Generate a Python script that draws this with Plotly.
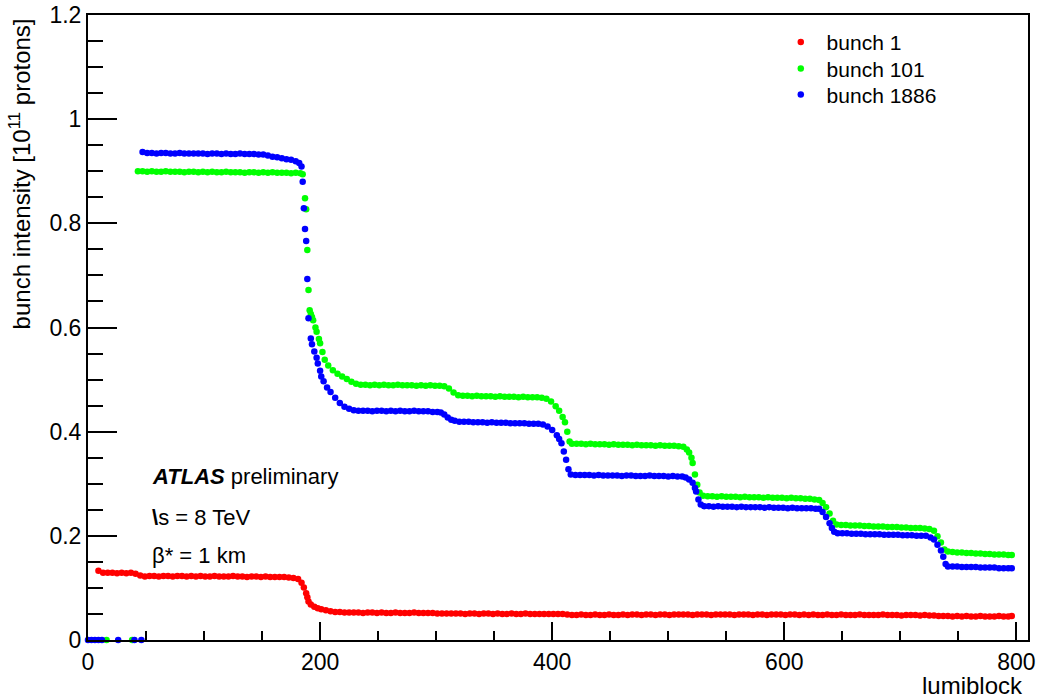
import plotly.graph_objects as go

# ---------------- data ----------------
bunch1_x = [
    9, 13, 17, 21, 25, 29, 33, 37, 41, 45,
    49, 53, 57, 61, 65, 69, 73, 77, 81, 85,
    89, 93, 97, 101, 105, 109, 113, 117, 121, 125,
    129, 133, 137, 141, 145, 149, 153, 157, 161, 165,
    169, 173, 177, 181, 184, 186, 188, 189, 190, 192,
    195, 198, 201, 205, 209, 213, 217, 221, 225, 229,
    233, 237, 241, 245, 249, 253, 257, 261, 265, 269,
    273, 277, 281, 285, 289, 293, 297, 301, 305, 309,
    313, 317, 321, 325, 329, 333, 337, 341, 345, 349,
    353, 357, 361, 365, 369, 373, 377, 381, 385, 389,
    393, 397, 401, 405, 409, 413, 417, 421, 425, 429,
    433, 437, 441, 445, 449, 453, 457, 461, 465, 469,
    473, 477, 481, 485, 489, 493, 497, 501, 505, 509,
    513, 517, 521, 525, 529, 533, 537, 541, 545, 549,
    553, 557, 561, 565, 569, 573, 577, 581, 585, 589,
    593, 597, 601, 605, 609, 613, 617, 621, 625, 629,
    633, 637, 641, 645, 649, 653, 657, 661, 665, 669,
    673, 677, 681, 685, 689, 693, 697, 701, 705, 709,
    713, 717, 721, 725, 729, 733, 737, 741, 745, 749,
    753, 757, 761, 765, 769, 773, 777, 781, 785, 789,
    793, 796,
]
bunch1_y = [
    0.133, 0.129, 0.129, 0.129, 0.128, 0.129, 0.128, 0.129, 0.127, 0.124,
    0.122, 0.123, 0.123, 0.122, 0.123, 0.123, 0.122, 0.123, 0.123, 0.122,
    0.123, 0.122, 0.123, 0.122, 0.122, 0.123, 0.122, 0.122, 0.122, 0.123,
    0.122, 0.122, 0.121, 0.122, 0.122, 0.121, 0.122, 0.121, 0.121, 0.121,
    0.121, 0.120, 0.119, 0.117, 0.110, 0.101, 0.090, 0.082, 0.074, 0.068,
    0.064, 0.061, 0.059, 0.057, 0.055, 0.054, 0.054, 0.053, 0.053, 0.053,
    0.053, 0.052, 0.053, 0.053, 0.052, 0.053, 0.052, 0.052, 0.053, 0.052,
    0.052, 0.052, 0.053, 0.052, 0.052, 0.052, 0.052, 0.051, 0.051, 0.051,
    0.051, 0.051, 0.051, 0.050, 0.051, 0.051, 0.050, 0.051, 0.051, 0.050,
    0.051, 0.050, 0.050, 0.051, 0.050, 0.050, 0.051, 0.050, 0.050, 0.050,
    0.050, 0.050, 0.050, 0.050, 0.050, 0.049, 0.048, 0.048, 0.049, 0.048,
    0.048, 0.049, 0.048, 0.048, 0.049, 0.048, 0.048, 0.049, 0.048, 0.049,
    0.049, 0.048, 0.049, 0.049, 0.048, 0.049, 0.049, 0.048, 0.049, 0.049,
    0.049, 0.049, 0.048, 0.049, 0.049, 0.049, 0.048, 0.049, 0.049, 0.049,
    0.049, 0.048, 0.049, 0.049, 0.049, 0.048, 0.049, 0.049, 0.048, 0.049,
    0.049, 0.049, 0.048, 0.049, 0.049, 0.048, 0.049, 0.048, 0.049, 0.048,
    0.048, 0.049, 0.048, 0.048, 0.049, 0.048, 0.048, 0.048, 0.049, 0.048,
    0.048, 0.048, 0.048, 0.049, 0.048, 0.048, 0.048, 0.047, 0.048, 0.048,
    0.048, 0.047, 0.048, 0.047, 0.047, 0.046, 0.046, 0.046, 0.045, 0.046,
    0.045, 0.046, 0.045, 0.045, 0.046, 0.045, 0.045, 0.045, 0.046, 0.045,
    0.045, 0.046,
]

bunch101_x = [
    16, 38, 43, 47, 51, 55, 59, 63, 67, 71,
    75, 79, 83, 87, 91, 95, 99, 103, 107, 111,
    115, 119, 123, 127, 131, 135, 139, 143, 147, 151,
    155, 159, 163, 167, 171, 175, 179, 183, 185, 187,
    188, 189, 190, 191, 192, 193, 194, 196, 197, 199,
    200, 202, 204, 207, 211, 215, 219, 223, 227, 231,
    235, 239, 243, 247, 251, 255, 259, 263, 267, 271,
    275, 279, 283, 287, 291, 295, 299, 303, 307, 311,
    315, 319, 323, 327, 331, 335, 339, 343, 347, 351,
    355, 359, 363, 367, 371, 375, 379, 383, 387, 391,
    395, 399, 403, 406, 409, 411, 413, 415, 417, 421,
    425, 429, 433, 437, 441, 445, 449, 453, 457, 461,
    465, 469, 473, 477, 481, 485, 489, 493, 497, 501,
    505, 509, 513, 516, 518, 520, 521, 523, 525, 527,
    530, 534, 538, 542, 546, 550, 554, 558, 562, 566,
    570, 574, 578, 582, 586, 590, 594, 598, 602, 606,
    610, 614, 618, 622, 626, 630, 633, 636, 639, 642,
    645, 649, 653, 657, 661, 665, 669, 673, 677, 681,
    685, 689, 693, 697, 701, 705, 709, 713, 717, 721,
    725, 729, 732, 735, 738, 741, 745, 749, 753, 757,
    761, 765, 769, 773, 777, 781, 785, 789, 793, 796,
]
bunch101_y = [
    0.0, 0.0, 0.900, 0.900, 0.899, 0.900, 0.899, 0.899, 0.900, 0.899,
    0.899, 0.899, 0.898, 0.899, 0.899, 0.898, 0.899, 0.898, 0.899, 0.898,
    0.898, 0.899, 0.898, 0.898, 0.898, 0.897, 0.898, 0.898, 0.897, 0.898,
    0.897, 0.898, 0.897, 0.897, 0.897, 0.896, 0.897, 0.896, 0.894, 0.848,
    0.827, 0.749, 0.672, 0.633, 0.626, 0.620, 0.614, 0.600, 0.592, 0.578,
    0.570, 0.553, 0.538, 0.527, 0.518, 0.511, 0.506, 0.501, 0.496, 0.492,
    0.490, 0.490, 0.489, 0.490, 0.489, 0.490, 0.489, 0.489, 0.490, 0.489,
    0.489, 0.489, 0.488, 0.489, 0.488, 0.489, 0.488, 0.488, 0.487, 0.483,
    0.475, 0.470, 0.469, 0.469, 0.468, 0.469, 0.468, 0.468, 0.468, 0.467,
    0.468, 0.467, 0.467, 0.467, 0.466, 0.467, 0.466, 0.466, 0.466, 0.465,
    0.463, 0.458, 0.449, 0.440, 0.428, 0.418, 0.400, 0.381, 0.377, 0.377,
    0.377, 0.376, 0.377, 0.376, 0.376, 0.376, 0.375, 0.376, 0.375, 0.375,
    0.375, 0.374, 0.375, 0.374, 0.374, 0.374, 0.373, 0.374, 0.373, 0.373,
    0.373, 0.372, 0.371, 0.366, 0.360, 0.350, 0.340, 0.318, 0.298, 0.283,
    0.277, 0.276, 0.276, 0.275, 0.276, 0.275, 0.275, 0.275, 0.274, 0.275,
    0.274, 0.274, 0.274, 0.273, 0.274, 0.273, 0.273, 0.273, 0.272, 0.273,
    0.272, 0.272, 0.271, 0.271, 0.270, 0.269, 0.263, 0.255, 0.243, 0.229,
    0.222, 0.221, 0.221, 0.220, 0.220, 0.220, 0.219, 0.219, 0.218, 0.218,
    0.218, 0.217, 0.217, 0.217, 0.216, 0.216, 0.215, 0.215, 0.215, 0.214,
    0.213, 0.210, 0.199, 0.187, 0.174, 0.170, 0.169, 0.168, 0.168, 0.167,
    0.167, 0.166, 0.166, 0.165, 0.165, 0.164, 0.164, 0.164, 0.163, 0.163,
]

bunch1886_x = [
    0, 3, 6, 9, 12, 26, 40, 46, 47, 51,
    55, 59, 63, 67, 71, 75, 79, 83, 87, 91,
    95, 99, 103, 107, 111, 115, 119, 123, 127, 131,
    135, 139, 143, 147, 151, 155, 159, 163, 167, 171,
    175, 179, 182, 184, 185, 186, 187, 188, 189, 190,
    192, 193, 195, 197, 198, 200, 201, 203, 206, 209,
    213, 217, 221, 225, 229, 233, 237, 241, 245, 249,
    253, 257, 261, 265, 269, 273, 277, 281, 285, 289,
    293, 297, 301, 304, 307, 310, 313, 316, 320, 324,
    328, 332, 336, 340, 344, 348, 352, 356, 360, 364,
    368, 372, 376, 380, 384, 388, 392, 396, 400, 404,
    406, 408, 410, 412, 414, 416, 420, 424, 428, 432,
    436, 440, 444, 448, 452, 456, 460, 464, 468, 472,
    476, 480, 484, 488, 492, 496, 500, 504, 508, 512,
    515, 518, 521, 523, 524, 526, 528, 531, 535, 539,
    543, 547, 551, 555, 559, 563, 567, 571, 575, 579,
    583, 587, 591, 595, 599, 603, 607, 611, 615, 619,
    623, 627, 630, 633, 636, 639, 641, 643, 646, 650,
    654, 658, 662, 666, 670, 674, 678, 682, 686, 690,
    694, 698, 702, 706, 710, 714, 718, 722, 726, 729,
    732, 735, 737, 739, 741, 745, 749, 753, 757, 761,
    765, 769, 773, 777, 781, 785, 789, 793, 796,
]
bunch1886_y = [
    0.0, 0.0, 0.0, 0.0, 0.0, 0.0, 0.0, 0.0, 0.937, 0.935,
    0.935, 0.934, 0.935, 0.935, 0.934, 0.934, 0.935, 0.934, 0.934, 0.934,
    0.934, 0.934, 0.933, 0.934, 0.934, 0.933, 0.934, 0.933, 0.933, 0.934,
    0.933, 0.933, 0.933, 0.932, 0.932, 0.930, 0.928, 0.927, 0.925, 0.923,
    0.922, 0.919, 0.916, 0.909, 0.880, 0.829, 0.789, 0.766, 0.693, 0.618,
    0.579, 0.568, 0.554, 0.542, 0.531, 0.517, 0.506, 0.497, 0.485, 0.476,
    0.465, 0.455, 0.448, 0.444, 0.441, 0.440, 0.440, 0.440, 0.439, 0.440,
    0.440, 0.439, 0.440, 0.439, 0.440, 0.439, 0.439, 0.440, 0.439, 0.439,
    0.439, 0.438, 0.438, 0.437, 0.433, 0.427, 0.423, 0.421, 0.419, 0.419,
    0.419, 0.418, 0.418, 0.418, 0.417, 0.418, 0.417, 0.417, 0.417, 0.416,
    0.416, 0.416, 0.416, 0.415, 0.415, 0.415, 0.414, 0.410, 0.403, 0.393,
    0.386, 0.378, 0.362, 0.346, 0.328, 0.318, 0.317, 0.317, 0.317, 0.317,
    0.316, 0.317, 0.316, 0.316, 0.316, 0.316, 0.315, 0.316, 0.316, 0.315,
    0.315, 0.315, 0.316, 0.315, 0.315, 0.315, 0.314, 0.315, 0.314, 0.314,
    0.312, 0.308, 0.302, 0.292, 0.285, 0.270, 0.260, 0.257, 0.257, 0.256,
    0.257, 0.256, 0.256, 0.256, 0.255, 0.256, 0.255, 0.255, 0.255, 0.255,
    0.254, 0.255, 0.254, 0.254, 0.254, 0.253, 0.254, 0.253, 0.253, 0.253,
    0.253, 0.252, 0.252, 0.246, 0.236, 0.224, 0.215, 0.208, 0.205, 0.205,
    0.205, 0.204, 0.204, 0.204, 0.203, 0.203, 0.203, 0.203, 0.202, 0.202,
    0.202, 0.202, 0.201, 0.201, 0.201, 0.200, 0.200, 0.200, 0.197, 0.193,
    0.183, 0.172, 0.160, 0.146, 0.141, 0.141, 0.141, 0.140, 0.140, 0.140,
    0.140, 0.139, 0.139, 0.139, 0.139, 0.138, 0.138, 0.138, 0.138,
]

series_names = ["bunch 1", "bunch 101", "bunch 1886"]
series_colors = ["#ff0000", "#00ff00", "#0000ff"]

x_tick_values = [0, 200, 400, 600, 800]
x_tick_labels = ["0", "200", "400", "600", "800"]
y_tick_values = [0, 0.2, 0.4, 0.6, 0.8, 1.0, 1.2]
y_tick_labels = ["0", "0.2", "0.4", "0.6", "0.8", "1", "1.2"]

assert len(bunch1_x) == len(bunch1_y)
assert len(bunch101_x) == len(bunch101_y)
assert len(bunch1886_x) == len(bunch1886_y)

FONT = "Liberation Sans, Arial, Helvetica, sans-serif"

legend_ids = ["legend", "legend2", "legend3"]
legend_tops = [0.989, 0.9465, 0.905]

fig = go.Figure()
for name, color, xs, ys, lg in zip(
    series_names,
    series_colors,
    [bunch1_x, bunch101_x, bunch1886_x],
    [bunch1_y, bunch101_y, bunch1886_y],
    legend_ids,
):
    fig.add_trace(
        go.Scatter(
            x=xs,
            y=ys,
            mode="markers",
            name="\u00a0" + name,
            legend=lg,
            marker=dict(color=color, size=6.5, line=dict(width=0)),
            cliponaxis=False,
        )
    )

axis_common = dict(
    showline=True,
    linecolor="black",
    linewidth=2,
    mirror=True,
    showgrid=False,
    zeroline=False,
    automargin=False,
    ticks="inside",
    tickcolor="black",
    tickwidth=1.5,
    tickfont=dict(family=FONT, size=23, color="black"),
)

fig.update_xaxes(
    **axis_common,
    range=[0, 810],
    tickmode="array",
    tickvals=x_tick_values,
    ticktext=x_tick_labels,
    ticklen=18,
    minor=dict(dtick=50, tick0=0, ticks="inside", ticklen=9, tickwidth=1.5,
               tickcolor="black", showgrid=False),
)
fig.update_yaxes(
    **axis_common,
    range=[0, 1.2],
    tickmode="array",
    tickvals=y_tick_values,
    ticktext=y_tick_labels,
    ticklen=29,
    minor=dict(dtick=0.05, tick0=0, ticks="inside", ticklen=15, tickwidth=1.5,
               tickcolor="black", showgrid=False),
)

text_font = dict(family=FONT, size=22, color="black")
annotations = [
    dict(text="bunch intensity [10<sup>11</sup> protons]", textangle=-90,
         xref="paper", yref="paper", x=-0.0723, y=0.997,
         xanchor="center", yanchor="top", showarrow=False,
         font=dict(family=FONT, size=24, color="black")),
    dict(text="lumiblock", xref="paper", yref="paper", x=0.997, y=-0.072,
         xanchor="right", yanchor="middle", showarrow=False,
         font=dict(family=FONT, size=24, color="black")),
    dict(text="<b><i>ATLAS</i></b> preliminary", xref="paper", yref="paper",
         x=0.066, y=0.2624, xanchor="left", yanchor="middle", showarrow=False,
         font=text_font),
    dict(text="<b>\\</b>s = 8 TeV", xref="paper", yref="paper",
         x=0.066, y=0.1968, xanchor="left", yanchor="middle", showarrow=False,
         font=text_font),
    dict(text="β* = 1 km", xref="paper", yref="paper",
         x=0.066, y=0.136, xanchor="left", yanchor="middle", showarrow=False,
         font=text_font),
]

legend_common = dict(
    x=0.737, xanchor="left", yanchor="top",
    bgcolor="rgba(0,0,0,0)", borderwidth=0,
    font=dict(family=FONT, size=21, color="black"),
    itemsizing="trace",
)

fig.update_layout(
    width=1041,
    height=700,
    margin=dict(l=88, r=13, t=15, b=60, autoexpand=False),
    paper_bgcolor="white",
    plot_bgcolor="white",
    font=dict(family=FONT, color="black"),
    showlegend=True,
    legend=dict(y=legend_tops[0], **legend_common),
    legend2=dict(y=legend_tops[1], **legend_common),
    legend3=dict(y=legend_tops[2], **legend_common),
    annotations=annotations,
)

fig.write_html("out.html")
